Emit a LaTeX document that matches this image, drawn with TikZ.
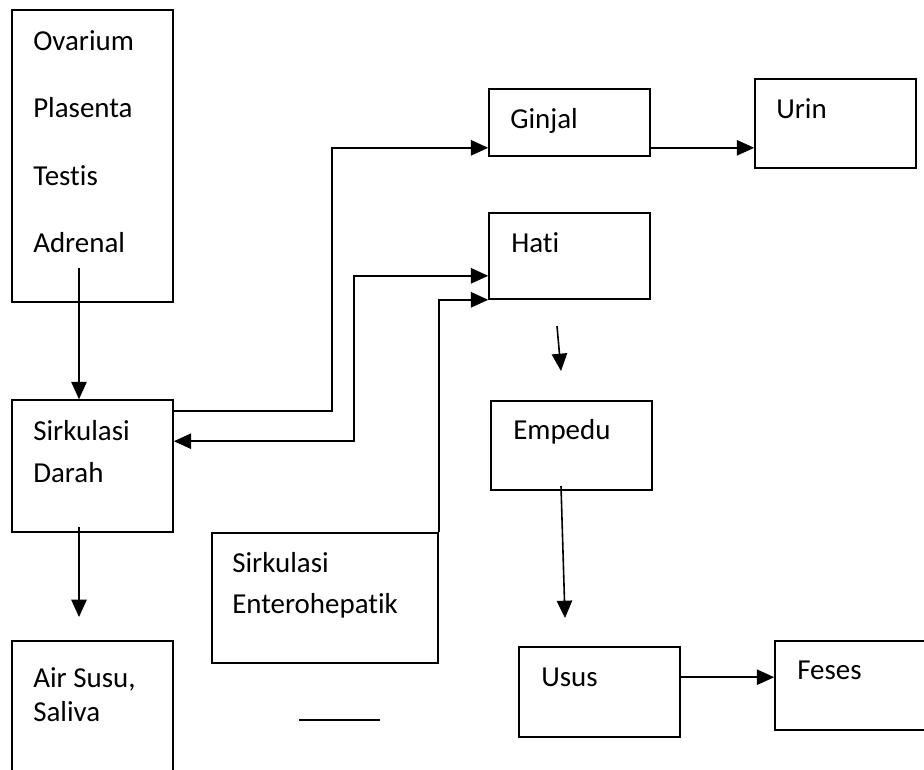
\documentclass[tikz,border=0pt]{standalone}
\usepackage{fontspec}
\setmainfont[Ligatures={NoCommon}]{Carlito}
\usetikzlibrary{arrows.meta,calc}
\tikzset{
  box/.style={draw, line width=1.2pt, minimum width=161*0.75pt, inner sep=0pt, rectangle},
  txt/.style={anchor=base west, inner sep=0pt, font=\fontsize{21.7}{26}\selectfont},
  conn/.style={line width=1.2pt},
  arr/.style={conn, -{Triangle[length=13pt,width=11.5pt]}},
  arrb/.style={conn, {Triangle[length=13pt,width=11.5pt]}-{Triangle[length=13pt,width=11.5pt]}}
}
\begin{document}
\begin{tikzpicture}[x=0.75pt,y=-0.75pt]
\useasboundingbox (0,0) rectangle (924,769);
% boxes
\node[box, minimum height=292*0.75pt] (src) at (92.5,156) {};
\node[box, minimum height=132*0.75pt] (sd) at (92.5,466) {};
\node[box, minimum height=132*0.75pt] (air) at (92.5,707) {};
\node[box, minimum width=226*0.75pt, minimum height=130*0.75pt] (ent) at (325,598) {};
\node[box, minimum height=67*0.75pt] (ginjal) at (569.5,122.5) {};
\node[box, minimum height=89*0.75pt] (urin) at (835.5,123.5) {};
\node[box, minimum height=86*0.75pt] (hati) at (569.5,256) {};
\node[box, minimum height=89*0.75pt] (empedu) at (571.5,445.5) {};
\node[box, minimum height=90*0.75pt] (usus) at (599.5,692) {};
\node[box, minimum height=89*0.75pt] (feses) at (855.5,685.5) {};
% texts
\node[txt] (t1) at (33,50) {Ovarium};
\node[txt] (t2) at (33,117) {Plasenta};
\node[txt] (t3) at (33,185) {Testis};
\node[txt] (t4) at (33,252) {Adrenal};
\node[txt] (t5) at (33,440) {Sirkulasi};
\node[txt] (t6) at (33,482) {Darah};
\node[txt] (t7) at (33,687) {Air Susu,};
\node[txt] (t8) at (33,721) {Saliva};
\node[txt] (t9) at (232,572) {Sirkulasi};
\node[txt] (t10) at (232,613) {Enterohepatik};
\node[txt] (t11) at (510,128) {Ginjal};
\node[txt] (t12) at (776,118) {Urin};
\node[txt] (t13) at (511,252) {Hati};
\node[txt] (t14) at (513,439) {Empedu};
\node[txt] (t15) at (541,686) {Usus};
\node[txt] (t16) at (797,679) {Feses};
% free ends
\coordinate (a1) at (79,268);
\coordinate (a2) at (79,527);
\coordinate (a3) at (79,617);
\coordinate (j1) at (332,0);
\coordinate (j2) at (354,0);
\coordinate (h1) at (557,326);
\coordinate (h2) at (561,371);
\coordinate (e1) at (561,486);
\coordinate (e2) at (565,618);
\coordinate (l1) at (299,720);
\coordinate (l2) at (380,720);
% connectors
\draw[arr] (a1) -- (a1 |- sd.north);
\draw[arr] (a2) -- (a3);
\draw[arr] ($(sd.north east)+(0,12)$) coordinate (s1) -- (s1 -| j1) |- ($(ginjal.south west)+(0,-9)$);
\draw[arrb] ($(hati.south west)+(0,-24)$) coordinate (s2) -- (s2 -| j2) |- ($(sd.north east)+(0,42)$);
\draw[arr] (ent.north east) |- (hati.south west);
\draw[arr] (h1) -- (h2);
\draw[arr] (e1) -- (e2);
\draw[arr] ($(ginjal.south east)+(0,-9)$) coordinate (s3) -- (s3 -| urin.west);
\draw[arr] ($(usus.north east)+(0,31)$) coordinate (s4) -- (s4 -| feses.west);
\draw[conn] (l1) -- (l2);
\end{tikzpicture}
\end{document}
